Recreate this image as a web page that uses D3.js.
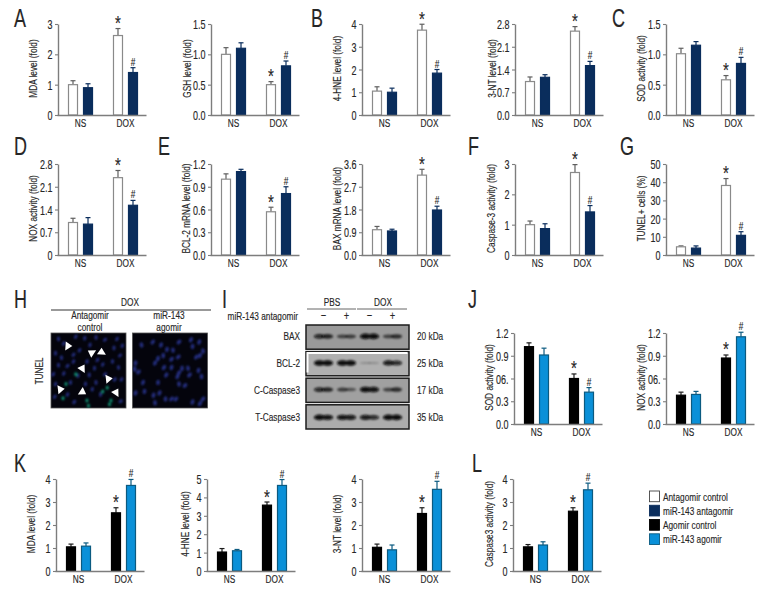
<!DOCTYPE html>
<html>
<head>
<meta charset="utf-8">
<script src="https://cdn.jsdelivr.net/npm/d3@7"></script>
<style>
  html, body { margin: 0; padding: 0; background: #fff; }
  svg { display: block; }
  text { font-family: "Liberation Sans", sans-serif; fill: #262626; stroke: #262626; stroke-width: 0.15; }
</style>
</head>
<body>
<svg id="chart" width="780" height="600"></svg>
<script>
// bar values, always in the order: NS ctrl, NS treated, DOX ctrl, DOX treated
const groups = ["NS", "DOX"];
const series = ["control", "treated"];

const mdaA = [1.0, 0.9, 2.62, 1.4];
const mdaAErr = [0.13, 0.13, 0.23, 0.16];
const gsh = [1.0, 1.1, 0.5, 0.81];
const gshErr = [0.11, 0.09, 0.05, 0.08];
const hne4B = [1.05, 1.0, 3.73, 1.84];
const hne4BErr = [0.19, 0.18, 0.26, 0.16];
const nt3B = [1.03, 1.16, 2.58, 1.52];
const nt3BErr = [0.14, 0.08, 0.14, 0.13];
const sodC = [1.01, 1.15, 0.58, 0.85];
const sodCErr = [0.09, 0.06, 0.07, 0.1];
const noxD = [1.0, 0.95, 2.38, 1.53];
const noxDErr = [0.13, 0.2, 0.22, 0.15];
const bcl2 = [1.0, 1.1, 0.57, 0.81];
const bcl2Err = [0.07, 0.03, 0.06, 0.09];
const bax = [1.0, 0.95, 3.16, 1.78];
const baxErr = [0.13, 0.07, 0.23, 0.15];
const casp3F = [1.0, 0.87, 2.72, 1.42];
const casp3FErr = [0.12, 0.16, 0.26, 0.21];
const tunel = [4.5, 3.8, 38.2, 10.8];
const tunelErr = [0.5, 1.2, 3.8, 2.0];
const sodJ = [1.02, 0.91, 0.6, 0.42];
const sodJErr = [0.05, 0.09, 0.06, 0.06];
const noxJ = [0.38, 0.39, 0.87, 1.15];
const noxJErr = [0.04, 0.04, 0.04, 0.06];
const mdaK = [1.05, 1.08, 2.53, 3.72];
const mdaKErr = [0.12, 0.14, 0.22, 0.26];
const hne4K = [1.03, 1.1, 3.58, 4.65];
const hne4KErr = [0.19, 0.07, 0.17, 0.32];
const nt3K = [1.03, 0.92, 2.5, 3.55];
const nt3KErr = [0.14, 0.21, 0.25, 0.35];
const casp3L = [1.05, 1.13, 2.6, 3.53];
const casp3LErr = [0.1, 0.14, 0.15, 0.29];

// tick labels, "06." is how the figure prints it
const ticks03 = ["0", "1", "2", "3"];
const ticks04 = ["0", "1", "2", "3", "4"];
const ticks05 = ["0", "1", "2", "3", "4", "5"];
const ticks15 = ["0.0", "0.5", "1.0", "1.5"];
const ticks28 = ["0.0", "0.7", "1.4", "2.1", "2.8"];
const ticks28b = ["0", "0.7", "1.4", "2.1", "2.8"];
const ticks12 = ["0.0", "0.3", "0.6", "0.9", "1.2"];
const ticks12b = ["0.0", "0.3", "06.", "0.9", "1.2"];
const ticks36 = ["0.0", "0.9", "1.8", "2.7", "3.6"];
const ticks50 = ["0", "10", "20", "30", "40", "50"];

const legendLabels = ["Antagomir control", "miR-143 antagomir", "Agomir control", "miR-143 agomir"];
const panelLetters = ["A", "B", "C", "D", "E", "F", "G", "H", "I", "J", "K", "L"];

// micrograph cells on a 0-100 grid
const cellsLeft = [[10,8],[17,14],[33,5],[45,7],[60,6],[72,9],[88,8],[95,17],[6,27],[14,33],[30,29],[38,23],[52,16],[84,20],
  [92,30],[62,36],[69,42],[82,38],[10,43],[22,44],[30,38],[48,38],[58,47],[90,46],[3,55],[17,54],[36,57],[51,56],[72,55],[94,62],
  [6,68],[26,66],[60,66],[85,62],[22,82],[55,75],[66,82],[93,91],[31,92],[5,85],[46,68]];
const cellsLeftGreen = [[33,55],[20,68],[16,87],[48,90],[69,78],[75,73],[80,90],[50,97],[78,95]];
const cellsRight = [[12,16],[27,12],[38,16],[46,22],[54,23],[62,12],[78,9],[89,12],[80,18],[94,24],[52,35],[30,40],[34,34],[41,30],
  [61,32],[85,32],[90,30],[4,40],[3,48],[8,52],[42,46],[52,46],[66,47],[74,47],[62,53],[60,58],[88,50],[92,58],[76,56],[45,56],
  [14,66],[34,66],[62,68],[70,70],[36,80],[28,83],[44,88],[52,88],[58,88],[4,80],[16,78],[30,93],[94,88],[90,94],[80,92]];
const arrowsLeft = [[22,18,-60],[55,26,150],[68,26,-150],[42,48,-120],[76,62,-70],[12,76,-70],[41,79,-30],[87,80,-120]];

// western blot: left and right lobe of each lane's band, 0-1
const blotNames = ["BAX", "BCL-2", "C-Caspase3", "T-Caspase3"];
const blotKda = ["20 kDa", "25 kDa", "17 kDa", "35 kDa"];
const blotLanes = ["PBS-", "PBS+", "DOX-", "DOX+"];
const blotSigns = ["\u2212", "+", "\u2212", "+"];
const blotLeft = [[0.8, 0.55, 1, 0.55], [1, 1, 0.12, 0.9], [0.8, 0.6, 1, 0.55], [1, 0.95, 0.9, 1]];
const blotRight = [[0.75, 0.6, 1, 0.7], [1, 1, 0.12, 0.8], [0.75, 0.45, 0.95, 0.7], [0.95, 0.9, 0.8, 1]];
const blotBg = ["#9a9a9a", "#b0b0b0", "#a0a0a0", "#acacac"];

const navyPalette = {
  fill: ["#ffffff", "#0a2d5c"],
  stroke: ["#8a8a8a", "#0a2d5c"],
  err: ["#5f5f5f", "#0a2d5c"],
};
const bluePalette = {
  fill: ["#000000", "#0a90d8"],
  stroke: ["#000000", "#0b5a80"],
  err: ["#1c1c1c", "#0b5a80"],
};
const legendFill = ["#ffffff", "#0a2d5c", "#000000", "#0a90d8"];
const legendStroke = ["#444", "#0a2d5c", "#000", "#0b5a80"];

const svg = d3.select("#chart");
const AXIS_GREY = "#7d7d7d";
const SQUEEZE = 0.72; // the figure uses a condensed face, none is installed

function narrowText(parent, x, y, str, size, anchor, rotate) {
  const t = parent.append("text")
    .attr("transform", `translate(${x},${y})` + (rotate ? ` rotate(${rotate})` : "") + ` scale(${SQUEEZE},1)`)
    .attr("font-size", size)
    .attr("text-anchor", anchor || "middle")
    .text(str);
  return t;
}

function drawBars(p) {
  const height = p.bottom - p.top;
  const g = svg.append("g").attr("transform", `translate(${p.x0},${p.top})`);

  const x = d3.scaleBand().domain(groups).range([10, 80]).paddingInner(0.444);
  const xInner = d3.scaleBand().domain(series).range([0, x.bandwidth()]).paddingInner(1 / 3);
  const y = d3.scaleLinear().domain([0, p.max]).range([height, 0]);

  const rows = p.values.map((v, i) => ({
    group: groups[Math.floor(i / 2)],
    s: i % 2,
    v,
    err: p.errs[i],
    mark: i === 2 ? "*" : i === 3 ? "#" : null,
  }));
  const barX = (d) => x(d.group) + xInner(series[d.s]);
  const mid = (d) => barX(d) + xInner.bandwidth() / 2;

  // error bars go under the bars
  const eb = g.selectAll(".err").data(rows).enter().append("g").attr("class", "err")
    .attr("stroke", (d) => p.palette.err[d.s]).attr("stroke-width", 1.2);
  eb.append("line").attr("x1", mid).attr("x2", mid).attr("y1", (d) => y(d.v)).attr("y2", (d) => y(d.v + d.err));
  eb.append("line").attr("x1", (d) => mid(d) - 2.5).attr("x2", (d) => mid(d) + 2.5)
    .attr("y1", (d) => y(d.v + d.err)).attr("y2", (d) => y(d.v + d.err));

  g.selectAll(".bar").data(rows).enter().append("rect").attr("class", "bar")
    .attr("x", (d) => barX(d) + 0.5)
    .attr("width", xInner.bandwidth() - 1)
    .attr("y", (d) => y(d.v))
    .attr("height", (d) => y(0) - y(d.v))
    .attr("fill", (d) => p.palette.fill[d.s])
    .attr("stroke", (d) => p.palette.stroke[d.s])
    .attr("stroke-width", 1.2);

  rows.filter((d) => d.mark).forEach((d) => {
    if (d.mark === "*") {
      narrowText(g, mid(d), y(d.v + d.err) + 1.5, "*", 21);
    } else {
      narrowText(g, mid(d), y(d.v + d.err) - 2, "#", 11.5);
    }
  });

  // axes
  const n = p.ticks.length;
  const yAxis = d3.axisLeft(y)
    .tickValues(d3.range(n).map((i) => (p.max * i) / (n - 1)))
    .tickFormat((d, i) => p.ticks[i])
    .tickSize(3).tickSizeOuter(0);
  const yG = g.append("g").call(yAxis);
  yG.selectAll("text").remove();
  yG.selectAll(".tick").each(function (d, i) {
    narrowText(d3.select(this), -5.5, 4.5, p.ticks[i], 12.5, "end");
  });

  const xAxis = d3.axisBottom(x).tickSize(0).tickSizeOuter(0);
  const xG = g.append("g").attr("transform", `translate(0,${height})`).call(xAxis);
  xG.select(".domain").attr("d", "M-0.5,0.5H88.5");
  xG.selectAll("text").remove();
  xG.selectAll(".tick").each(function (d) {
    narrowText(d3.select(this), 0, 12, d, 11.5);
  });

  g.selectAll(".domain").attr("stroke", AXIS_GREY).attr("stroke-width", 1.4);
  g.selectAll(".tick line").attr("stroke", AXIS_GREY).attr("stroke-width", 1.1);

  narrowText(g, p.labelX || -21, height / 2 - 1, p.label, 11.5, "middle", -90);
}

const panels = [
  { x0: 58, top: 24, bottom: 115, max: 3, ticks: ticks03, values: mdaA, errs: mdaAErr, label: "MDA level (fold)", palette: navyPalette },
  { x0: 211, top: 24, bottom: 115, max: 1.5, ticks: ticks15, values: gsh, errs: gshErr, label: "GSH level (fold)", palette: navyPalette, labelX: -20 },
  { x0: 362, top: 24, bottom: 115, max: 4, ticks: ticks04, values: hne4B, errs: hne4BErr, label: "4-HNE level (fold)", palette: navyPalette },
  { x0: 515, top: 24, bottom: 115, max: 2.8, ticks: ticks28, values: nt3B, errs: nt3BErr, label: "3-NT level (fold)", palette: navyPalette, labelX: -19.5 },
  { x0: 666, top: 24, bottom: 115, max: 1.5, ticks: ticks15, values: sodC, errs: sodCErr, label: "SOD activity (fold)", palette: navyPalette },
  { x0: 58, top: 164, bottom: 255, max: 2.8, ticks: ticks28b, values: noxD, errs: noxDErr, label: "NOX activity (fold)", palette: navyPalette },
  { x0: 211, top: 164, bottom: 255, max: 1.2, ticks: ticks12, values: bcl2, errs: bcl2Err, label: "BCL-2 mRNA level (fold)", palette: navyPalette },
  { x0: 362, top: 164, bottom: 255, max: 3.6, ticks: ticks36, values: bax, errs: baxErr, label: "BAX mRNA level (fold)", palette: navyPalette },
  { x0: 515, top: 164, bottom: 255, max: 3, ticks: ticks03, values: casp3F, errs: casp3FErr, label: "Caspase-3 activity (fold)", palette: navyPalette, labelX: -20 },
  { x0: 666, top: 164, bottom: 255, max: 50, ticks: ticks50, values: tunel, errs: tunelErr, label: "TUNEL+ cells (%)", palette: navyPalette },
  { x0: 514, top: 333, bottom: 424, max: 1.2, ticks: ticks12b, values: sodJ, errs: sodJErr, label: "SOD activity (fold)", palette: bluePalette },
  { x0: 666, top: 333, bottom: 424, max: 1.2, ticks: ticks12b, values: noxJ, errs: noxJErr, label: "NOX activity (fold)", palette: bluePalette },
  { x0: 56, top: 479, bottom: 571, max: 4, ticks: ticks04, values: mdaK, errs: mdaKErr, label: "MDA level (fold)", palette: bluePalette },
  { x0: 207, top: 479, bottom: 571, max: 5, ticks: ticks05, values: hne4K, errs: hne4KErr, label: "4-HNE level (fold)", palette: bluePalette, labelX: -18 },
  { x0: 362, top: 479, bottom: 571, max: 4, ticks: ticks04, values: nt3K, errs: nt3KErr, label: "3-NT level (fold)", palette: bluePalette },
  { x0: 513, top: 479, bottom: 571, max: 4, ticks: ticks04, values: casp3L, errs: casp3LErr, label: "Caspase3 activity (fold)", palette: bluePalette, labelX: -20 },
];
panels.forEach(drawBars);

// panel letters
const letterPos = [[14,27],[311,27],[612,27],[14,155],[158,155],[468,155],[620,155],[14,308],[222,308],[468,308],[14,472],[472,472]];
panelLetters.forEach((l, i) => {
  narrowText(svg, letterPos[i][0], letterPos[i][1], l, 25, "start");
});

// --- H: micrographs
const defs = svg.append("defs");
defs.append("filter").attr("id", "soft").append("feGaussianBlur").attr("stdDeviation", 0.8);
defs.append("filter").attr("id", "softer").attr("x", "-30%").attr("width", "160%")
  .attr("y", "-100%").attr("height", "300%")
  .append("feGaussianBlur").attr("stdDeviation", 0.9);

function drawMicro(x0, y0, size, blue, green, arrows, clipId, cellW, cellH) {
  const sx = d3.scaleLinear().domain([0, 100]).range([0, size]);
  const g = svg.append("g").attr("transform", `translate(${x0},${y0})`);
  defs.append("clipPath").attr("id", clipId).append("rect").attr("width", size).attr("height", size);
  g.append("rect").attr("width", size).attr("height", size).attr("fill", "#04040c")
    .attr("stroke", "#555").attr("stroke-width", 0.8);
  const c = g.append("g").attr("clip-path", `url(#${clipId})`).append("g").attr("filter", "url(#soft)");
  c.selectAll(".blue").data(blue).enter().append("ellipse")
    .attr("cx", (d) => sx(d[0])).attr("cy", (d) => sx(d[1]))
    .attr("rx", cellW).attr("ry", cellH)
    .attr("transform", (d, i) => `rotate(${(i * 47) % 60 - 10},${sx(d[0])},${sx(d[1])})`)
    .attr("fill", "#28338f").attr("opacity", 0.9);
  c.selectAll(".green").data(green).enter().append("ellipse")
    .attr("cx", (d) => sx(d[0])).attr("cy", (d) => sx(d[1]))
    .attr("rx", 1.4).attr("ry", 2.1)
    .attr("fill", "#109a78");
  g.selectAll(".arrow").data(arrows).enter().append("path")
    .attr("d", "M-4.5,0L3.5,-4L2.8,4Z")
    .attr("transform", (d) => `translate(${sx(d[0])},${sx(d[1])}) rotate(${d[2]})`)
    .attr("fill", "#fff");
}
drawMicro(51, 333, 75, cellsLeft, cellsLeftGreen, arrowsLeft, "clipLeft", 1.5, 2.4);
drawMicro(132.5, 333, 75, cellsRight, [], [], "clipRight", 1.8, 2.8);

svg.append("line").attr("x1", 51).attr("x2", 211).attr("y1", 310).attr("y2", 310)
  .attr("stroke", "#777").attr("stroke-width", 1.3);
narrowText(svg, 130, 306, "DOX", 11.5);
narrowText(svg, 90, 319, "Antagomir", 11.5);
narrowText(svg, 90, 331, "control", 11.5);
narrowText(svg, 169, 319, "miR-143", 11.5);
narrowText(svg, 169, 331, "agomir", 11.5);
narrowText(svg, 43, 371, "TUNEL", 11.5, "middle", -90);

// --- I: western blot
const laneX = d3.scaleBand().domain(blotLanes).range([312, 404]).paddingInner(0);
const rowY = d3.scaleBand().domain(blotNames).range([325, 429]).paddingInner(0.09);
const darkness = d3.scaleLinear().domain([0, 1]).range([0.1, 1]);
const bandH = d3.scaleLinear().domain([0, 1]).range([0.8, 2.8]);

blotNames.forEach((name, r) => {
  const top = rowY(name);
  svg.append("rect").attr("x", 306).attr("y", top).attr("width", 103).attr("height", rowY.bandwidth())
    .attr("fill", blotBg[r]).attr("stroke", "#1c1c1c").attr("stroke-width", 1.5);
  const cy = top + rowY.bandwidth() * (r === 3 ? 0.52 : 0.47);
  const bands = svg.append("g").attr("filter", "url(#softer)");
  blotLanes.forEach((lane, i) => {
    const cx = laneX(lane) + laneX.bandwidth() / 2;
    [[blotLeft[r][i], -4], [blotRight[r][i], 4]].forEach(([v, dx]) => {
      bands.append("ellipse").attr("cx", cx + dx).attr("cy", cy)
        .attr("rx", 5.6).attr("ry", bandH(v))
        .attr("fill", "#080808").attr("opacity", darkness(v));
    });
  });
  if (r === 1) {
    // the pasted BCL-2 strip keeps a white edge on the left and top
    svg.append("path").attr("d", `M${307.5},${top + 21}V${top + 1.5}H${407.5}`)
      .attr("fill", "none").attr("stroke", "#fff").attr("stroke-width", 2);
  }
  narrowText(svg, 300, cy + 4, name, 11.5, "end");
  narrowText(svg, 417, cy + 4, blotKda[r], 11.5, "start");
});
blotLanes.forEach((lane, i) => {
  narrowText(svg, laneX(lane) + laneX.bandwidth() / 2, 320, blotSigns[i], 13);
});
narrowText(svg, 298, 320, "miR-143 antagomir", 11.5, "end");
narrowText(svg, 332, 306, "PBS", 11.5);
narrowText(svg, 383, 306, "DOX", 11.5);
svg.append("line").attr("x1", 307).attr("x2", 356).attr("y1", 309).attr("y2", 309).attr("stroke", "#666").attr("stroke-width", 1);
svg.append("line").attr("x1", 357).attr("x2", 407).attr("y1", 309).attr("y2", 309).attr("stroke", "#666").attr("stroke-width", 1);

// --- legend
const legendY = d3.scaleBand().domain(legendLabels).range([491, 544.5]).paddingInner(0.25);
legendLabels.forEach((l, i) => {
  svg.append("rect").attr("x", 649.5).attr("y", legendY(l))
    .attr("width", 10).attr("height", legendY.bandwidth())
    .attr("fill", legendFill[i]).attr("stroke", legendStroke[i]).attr("stroke-width", 0.9);
  narrowText(svg, 663, legendY(l) + 9.5, l, 11.5, "start");
});
</script>
</body>
</html>
